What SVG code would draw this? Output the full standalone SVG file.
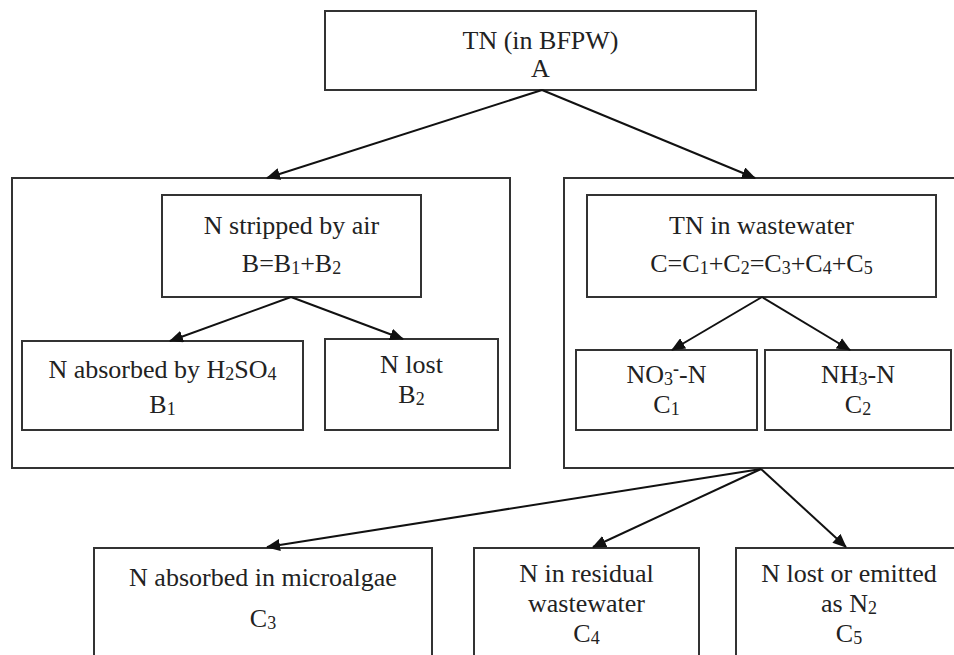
<svg xmlns="http://www.w3.org/2000/svg" width="954" height="655" viewBox="0 0 954 655">
<style>
.box{fill:#fff;stroke:#333;stroke-width:2}
text{font-family:'Liberation Serif','DejaVu Serif',serif;font-size:26px;fill:#222;text-anchor:middle}
.sub{font-size:18px}
.con{stroke:#111;stroke-width:2;fill:none;marker-end:url(#ah)}
</style>
<defs>
<marker id="ah" markerUnits="userSpaceOnUse" markerWidth="14" markerHeight="12" refX="13" refY="6" orient="auto">
<path d="M0,0 L14,6 L0,12 z" fill="#111"/>
</marker>
</defs>
<rect width="954" height="655" fill="#fff"/>
<g font-family="Liberation Serif, serif">
<g id="outerB"><rect class="box" x="12" y="178" width="498" height="290"/></g>
<g id="outerC"><rect class="box" x="564" y="178" width="400" height="290"/></g>
<g id="nodeA"><rect class="box" x="325" y="11" width="431" height="79"/>
<text x="540.5" y="49">TN (in BFPW)</text>
<text x="540.5" y="77">A</text></g>
<g id="nodeB"><rect class="box" x="162" y="195" width="259" height="102"/>
<text x="291.5" y="234">N stripped by air</text>
<text x="291.5" y="272">B=B<tspan class="sub" dy="2">1</tspan><tspan dy="-2">+B</tspan><tspan class="sub" dy="2">2</tspan></text></g>
<g id="nodeB1"><rect class="box" x="22" y="341" width="281" height="89"/>
<text x="162.5" y="378">N absorbed by H<tspan class="sub" dy="2">2</tspan><tspan dy="-2">SO</tspan><tspan class="sub" dy="2">4</tspan></text>
<text x="162.5" y="413">B<tspan class="sub" dy="2">1</tspan></text></g>
<g id="nodeB2"><rect class="box" x="325" y="339" width="173" height="91"/>
<text x="411.5" y="373">N lost</text>
<text x="411.5" y="403">B<tspan class="sub" dy="2">2</tspan></text></g>
<g id="nodeC"><rect class="box" x="587" y="195" width="349" height="102"/>
<text x="761.5" y="234">TN in wastewater</text>
<text x="761.5" y="272">C=C<tspan class="sub" dy="2">1</tspan><tspan dy="-2">+C</tspan><tspan class="sub" dy="2">2</tspan><tspan dy="-2">=C</tspan><tspan class="sub" dy="2">3</tspan><tspan dy="-2">+C</tspan><tspan class="sub" dy="2">4</tspan><tspan dy="-2">+C</tspan><tspan class="sub" dy="2">5</tspan></text></g>
<g id="nodeC1"><rect class="box" x="576" y="350" width="181" height="80"/>
<text x="666.5" y="383">NO<tspan class="sub" dy="2">3</tspan><tspan class="sub" dy="-10" font-weight="bold">-</tspan><tspan dy="8">-N</tspan></text>
<text x="666.5" y="413">C<tspan class="sub" dy="2">1</tspan></text></g>
<g id="nodeC2"><rect class="box" x="765" y="350" width="186" height="80"/>
<text x="858" y="383">NH<tspan class="sub" dy="2">3</tspan><tspan dy="-2">-N</tspan></text>
<text x="858" y="413">C<tspan class="sub" dy="2">2</tspan></text></g>
<g id="nodeC3"><rect class="box" x="94" y="548" width="338" height="120"/>
<text x="263" y="586">N absorbed in microalgae</text>
<text x="263" y="627">C<tspan class="sub" dy="2">3</tspan></text></g>
<g id="nodeC4"><rect class="box" x="474" y="548" width="225" height="120"/>
<text x="586.5" y="582">N in residual</text>
<text x="586.5" y="612">wastewater</text>
<text x="586.5" y="642">C<tspan class="sub" dy="2">4</tspan></text></g>
<g id="nodeC5"><rect class="box" x="736" y="548" width="230" height="120"/>
<text x="849" y="582">N lost or emitted</text>
<text x="849" y="612">as N<tspan class="sub" dy="2">2</tspan></text>
<text x="849" y="642">C<tspan class="sub" dy="2">5</tspan></text></g>
</g>
<g id="connectors">
<line class="con" x1="542" y1="90" x2="267" y2="178"/>
<line class="con" x1="542" y1="90" x2="755" y2="178"/>
<line class="con" x1="291" y1="297" x2="170" y2="341"/>
<line class="con" x1="291" y1="297" x2="403" y2="339"/>
<line class="con" x1="762" y1="297" x2="672" y2="350"/>
<line class="con" x1="762" y1="297" x2="850" y2="350"/>
<line class="con" x1="761" y1="469" x2="267" y2="547"/>
<line class="con" x1="761" y1="469" x2="593" y2="547"/>
<line class="con" x1="761" y1="469" x2="846" y2="547"/>
</g>
</svg>
